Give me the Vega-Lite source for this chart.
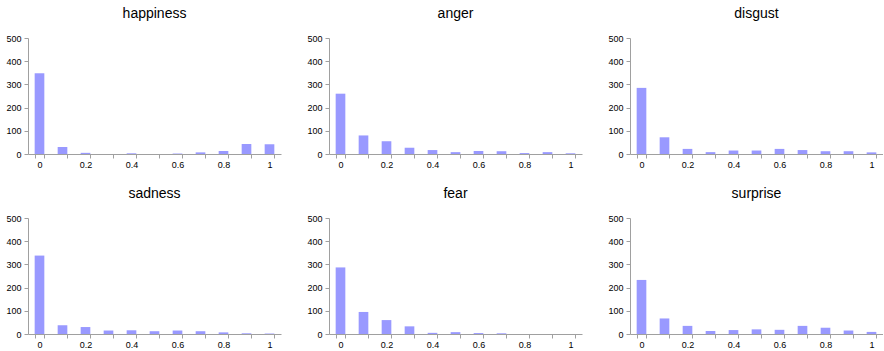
{
  "$schema": "https://vega.github.io/schema/vega-lite/v6.json",
  "padding": {"left": 5, "top": 7, "right": 0, "bottom": 0},
  "background": "white",
  "data": {"values": [
    {"emotion":"happiness","bin":"0","count":348},{"emotion":"happiness","bin":"0.1","count":30},{"emotion":"happiness","bin":"0.2","count":5},{"emotion":"happiness","bin":"0.3","count":0},{"emotion":"happiness","bin":"0.4","count":3},{"emotion":"happiness","bin":"0.5","count":0},{"emotion":"happiness","bin":"0.6","count":2},{"emotion":"happiness","bin":"0.7","count":7},{"emotion":"happiness","bin":"0.8","count":13},{"emotion":"happiness","bin":"0.9","count":43},{"emotion":"happiness","bin":"1","count":42},
    {"emotion":"anger","bin":"0","count":260},{"emotion":"anger","bin":"0.1","count":80},{"emotion":"anger","bin":"0.2","count":55},{"emotion":"anger","bin":"0.3","count":27},{"emotion":"anger","bin":"0.4","count":17},{"emotion":"anger","bin":"0.5","count":8},{"emotion":"anger","bin":"0.6","count":13},{"emotion":"anger","bin":"0.7","count":12},{"emotion":"anger","bin":"0.8","count":4},{"emotion":"anger","bin":"0.9","count":8},{"emotion":"anger","bin":"1","count":3},
    {"emotion":"disgust","bin":"0","count":285},{"emotion":"disgust","bin":"0.1","count":72},{"emotion":"disgust","bin":"0.2","count":22},{"emotion":"disgust","bin":"0.3","count":8},{"emotion":"disgust","bin":"0.4","count":15},{"emotion":"disgust","bin":"0.5","count":15},{"emotion":"disgust","bin":"0.6","count":22},{"emotion":"disgust","bin":"0.7","count":17},{"emotion":"disgust","bin":"0.8","count":12},{"emotion":"disgust","bin":"0.9","count":12},{"emotion":"disgust","bin":"1","count":7},
    {"emotion":"sadness","bin":"0","count":338},{"emotion":"sadness","bin":"0.1","count":38},{"emotion":"sadness","bin":"0.2","count":30},{"emotion":"sadness","bin":"0.3","count":15},{"emotion":"sadness","bin":"0.4","count":16},{"emotion":"sadness","bin":"0.5","count":12},{"emotion":"sadness","bin":"0.6","count":15},{"emotion":"sadness","bin":"0.7","count":12},{"emotion":"sadness","bin":"0.8","count":7},{"emotion":"sadness","bin":"0.9","count":3},{"emotion":"sadness","bin":"1","count":2},
    {"emotion":"fear","bin":"0","count":287},{"emotion":"fear","bin":"0.1","count":95},{"emotion":"fear","bin":"0.2","count":60},{"emotion":"fear","bin":"0.3","count":33},{"emotion":"fear","bin":"0.4","count":5},{"emotion":"fear","bin":"0.5","count":8},{"emotion":"fear","bin":"0.6","count":4},{"emotion":"fear","bin":"0.7","count":3},{"emotion":"fear","bin":"0.8","count":0},{"emotion":"fear","bin":"0.9","count":0},{"emotion":"fear","bin":"1","count":0},
    {"emotion":"surprise","bin":"0","count":233},{"emotion":"surprise","bin":"0.1","count":67},{"emotion":"surprise","bin":"0.2","count":35},{"emotion":"surprise","bin":"0.3","count":13},{"emotion":"surprise","bin":"0.4","count":17},{"emotion":"surprise","bin":"0.5","count":20},{"emotion":"surprise","bin":"0.6","count":18},{"emotion":"surprise","bin":"0.7","count":35},{"emotion":"surprise","bin":"0.8","count":27},{"emotion":"surprise","bin":"0.9","count":15},{"emotion":"surprise","bin":"1","count":9}
  ]},
  "facet": {
    "field": "emotion",
    "type": "nominal",
    "sort": ["happiness","anger","disgust","sadness","fear","surprise"],
    "header": {"title": null, "labelFont": "Liberation Sans", "labelFontSize": 14, "labelColor": "black", "labelPadding": 13}
  },
  "columns": 3,
  "spacing": {"column": 25, "row": 18},
  "resolve": {"axis": {"x": "independent", "y": "independent"}},
  "spec": {
    "width": 253,
    "height": 116,
    "mark": {"type": "bar", "color": "#9999FF"},
    "encoding": {
      "x": {
        "field": "bin", "type": "ordinal",
        "sort": ["0","0.1","0.2","0.3","0.4","0.5","0.6","0.7","0.8","0.9","1"],
        "scale": {"paddingInner": 0.58, "paddingOuter": 0.29},
        "axis": {
          "title": null, "labelAngle": 0, "tickBand": "extent",
          "labelExpr": "(datum.value == '0' || datum.value == '0.2' || datum.value == '0.4' || datum.value == '0.6' || datum.value == '0.8' || datum.value == '1') ? datum.value : ''",
          "labelFont": "Liberation Sans", "labelFontSize": 9, "labelColor": "black",
          "domainColor": "#A0A0A0", "tickColor": "#A0A0A0", "tickSize": 4, "labelPadding": 2
        }
      },
      "y": {
        "field": "count", "type": "quantitative",
        "scale": {"domain": [0, 500]},
        "axis": {
          "title": null, "values": [0,100,200,300,400,500], "grid": false,
          "labelFont": "Liberation Sans", "labelFontSize": 9, "labelColor": "black",
          "domainColor": "#A0A0A0", "tickColor": "#A0A0A0", "tickSize": 4, "labelPadding": 3
        }
      }
    }
  },
  "config": {"view": {"stroke": null}}
}
